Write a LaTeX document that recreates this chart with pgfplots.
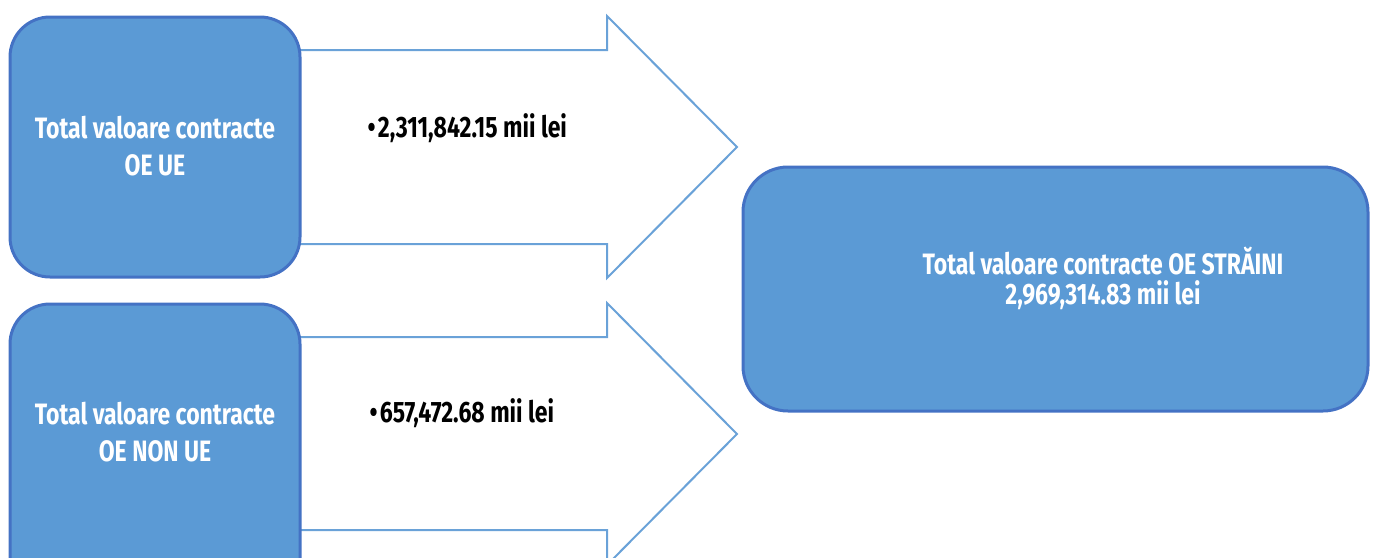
\documentclass[border=0pt]{standalone}
\usepackage{pgfplots}
\pgfplotsset{compat=1.18}
\usepackage{fontspec}
\setmainfont{Fira Sans}[FakeStretch=0.78]
\definecolor{boxfill}{HTML}{5B9AD5}
\definecolor{boxline}{HTML}{4472C4}
\definecolor{arrline}{HTML}{6AA2D8}
\begin{document}
\begin{tikzpicture}
\begin{axis}[
    name=ax,
    width=1376pt, height=557pt, scale only axis,
    xmin=0, xmax=1376, ymin=0, ymax=557, y dir=reverse,
    hide axis, clip=true,
]
% arrows
\addplot[draw=arrline, line width=2pt, fill=white] coordinates {
    (290,50) (607,50) (607,16) (737,147) (607,278) (607,244) (290,244)} -- cycle;
\addplot[draw=arrline, line width=2pt, fill=white] coordinates {
    (290,337) (607,337) (607,303) (737,434) (607,565) (607,530) (290,530)} -- cycle;
% boxes
\addplot[draw=boxline, line width=3pt, fill=boxfill, rounded corners=40pt] coordinates {
    (10,17) (300,17) (300,277) (10,277)} -- cycle;
\addplot[draw=boxline, line width=3pt, fill=boxfill, rounded corners=40pt] coordinates {
    (10,304) (300,304) (300,600) (10,600)} -- cycle;
\addplot[draw=boxline, line width=3pt, fill=boxfill, rounded corners=45pt] coordinates {
    (743,167) (1368,167) (1368,411) (743,411)} -- cycle;
% texts
\node[text=white, font=\fontsize{29.5}{37}\selectfont\bfseries, align=center] at (axis cs:155,146)
    {Total valoare contracte\\OE UE};
\node[text=white, font=\fontsize{29.5}{37}\selectfont\bfseries, align=center] at (axis cs:155,432)
    {Total valoare contracte\\OE NON UE};
\node[text=white, font=\fontsize{29.5}{30}\selectfont\bfseries, align=center] at (axis cs:1103,278)
    {Total valoare contracte OE STRĂINI\\2,969,314.83 mii lei};
\node[text=black, font=\fontsize{29.5}{30}\selectfont\bfseries, anchor=west] at (axis cs:364,128)
    {\textbullet\hspace{2.5pt}2,311,842.15 mii lei};
\node[text=black, font=\fontsize{29.5}{30}\selectfont\bfseries, anchor=west] at (axis cs:366,413)
    {\textbullet\hspace{2.5pt}657,472.68 mii lei};
\end{axis}
\pgfresetboundingbox
\useasboundingbox (ax.south west) rectangle (ax.north east);
\end{tikzpicture}
\end{document}
